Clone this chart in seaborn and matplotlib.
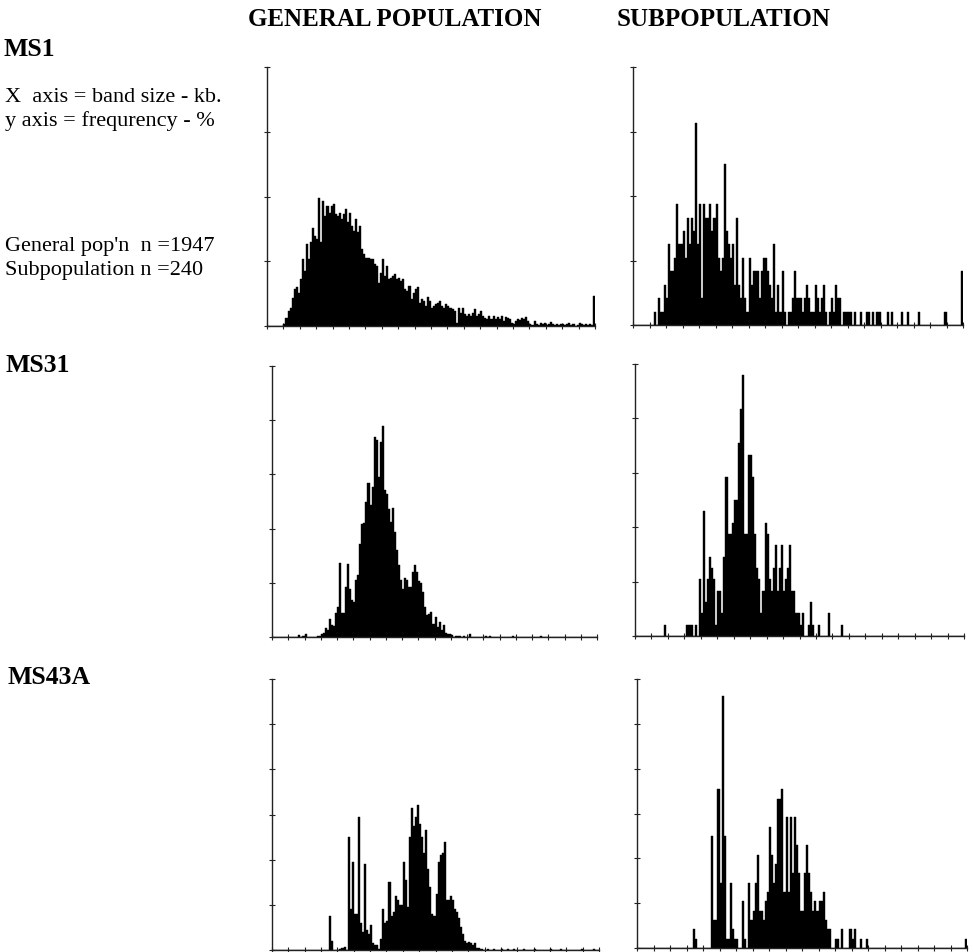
import numpy as np
import pandas as pd
import matplotlib.pyplot as plt
import seaborn as sns

sns.set_style("ticks")
plt.rcParams['font.family'] = ['Liberation Serif', 'DejaVu Serif']

# 160 size bins per panel, 8 bins between x ticks
n_bins = 160
bins_per_tick = 8
sub_n = 240  # subpopulation values are band counts

# MS1, general population (% per bin)
ms1_general = [
    0, 0, 0, 0, 0, 0, 0, 0, 0.05, 0.26, 0.46, 0.57, 0.88, 1.13, 1.19, 1.03,
    1.44, 2.08, 1.70, 2.53, 2.06, 2.58, 3.04, 2.78, 2.68, 3.94, 2.58, 3.87, 3.40, 3.71, 3.50, 3.71,
    3.76, 3.45, 3.40, 3.50, 3.30, 3.45, 3.60, 3.20, 3.48, 3.09, 2.94, 3.30, 2.89, 3.09, 2.37, 2.22,
    2.11, 2.11, 2.06, 2.06, 1.91, 1.86, 1.34, 1.65, 2.08, 1.55, 1.86, 1.44, 1.49, 1.55, 1.60, 1.44,
    1.49, 1.39, 1.44, 1.13, 1.08, 1.24, 0.82, 1.03, 1.13, 1.19, 0.72, 0.82, 0.77, 0.62, 0.91, 0.77,
    0.57, 0.62, 0.67, 0.72, 0.77, 0.62, 0.57, 0.67, 0.62, 0.57, 0.52, 0.46, 0.10, 0.57, 0.41, 0.57,
    0.36, 0.31, 0.36, 0.31, 0.41, 0.52, 0.31, 0.36, 0.46, 0.31, 0.26, 0.21, 0.31, 0.21, 0.31, 0.21,
    0.29, 0.21, 0.31, 0.15, 0.29, 0.26, 0.21, 0.10, 0.05, 0.15, 0.21, 0.19, 0.26, 0.21, 0.29, 0.15,
    0.05, 0.02, 0.15, 0.05, 0.02, 0.08, 0.05, 0.10, 0.02, 0.05, 0.12, 0.05, 0.03, 0.05, 0.03, 0.05,
    0.07, 0.03, 0.05, 0.10, 0.03, 0.05, 0, 0.03, 0.10, 0.05, 0.03, 0.05, 0.03, 0.05, 0.03, 0.93,
]

# MS1, subpopulation (counts per bin)
ms1_sub = [
    0, 0, 0, 0, 0, 0, 0, 0, 0, 0, 1, 0, 2, 1, 1, 3,
    2, 6, 4, 4, 5, 9, 6, 6, 7, 5, 8, 6, 8, 7, 15, 6,
    9, 2, 9, 8, 8, 9, 7, 8, 9, 5, 4, 5, 12, 7, 6, 5,
    6, 3, 8, 3, 2, 5, 2, 1, 5, 3, 4, 4, 4, 2, 4, 5,
    5, 4, 3, 2, 6, 1, 3, 1, 4, 1, 0, 1, 1, 2, 4, 2,
    2, 2, 1, 2, 3, 2, 1, 1, 3, 2, 1, 2, 3, 1, 0, 1,
    2, 1, 3, 2, 2, 0, 1, 1, 1, 1, 0, 1, 0, 0, 1, 0,
    0, 1, 1, 0, 1, 0, 1, 1, 0, 0, 0, 1, 0, 1, 0, 0,
    0, 0, 1, 0, 0, 1, 0, 0, 0, 0, 1, 0, 0, 0, 0, 0,
    0, 0, 0, 0, 0, 0, 0, 1, 0, 0, 0, 0, 0, 0, 0, 4,
]

# MS31, general population (%)
ms31_general = [
    0, 0, 0, 0, 0, 0, 0, 0, 0, 0, 0, 0, 0, 0.08, 0, 0.05,
    0.10, 0, 0, 0, 0, 0, 0.03, 0.05, 0.10, 0.15, 0.35, 0.25, 0.68, 0.45, 0.40, 0.90,
    1.10, 2.74, 0.90, 0.90, 1.85, 2.68, 1.78, 1.35, 1.30, 2.09, 2.27, 3.44, 4.18, 4.20, 5.00, 5.70,
    4.86, 5.53, 7.38, 7.26, 5.90, 7.20, 7.77, 5.41, 5.29, 4.74, 4.24, 4.77, 3.87, 3.20, 2.64, 2.09,
    1.78, 2.18, 2.09, 1.85, 1.85, 2.40, 2.67, 2.40, 2.05, 2.00, 1.66, 1.10, 0.80, 0.85, 0.92, 0.49,
    0.74, 0.37, 0.55, 0.25, 0.43, 0.16, 0.12, 0.10, 0.08, 0, 0.05, 0.05, 0.04, 0, 0.04, 0,
    0, 0.10, 0, 0, 0, 0, 0, 0, 0, 0.05, 0, 0.04, 0, 0, 0, 0,
    0, 0, 0, 0, 0, 0, 0.04, 0, 0, 0, 0, 0, 0, 0, 0, 0,
    0, 0, 0, 0, 0.04, 0, 0, 0, 0, 0, 0, 0, 0, 0, 0, 0,
    0, 0, 0, 0, 0, 0, 0, 0, 0, 0, 0, 0, 0, 0, 0, 0,
]

# MS31, subpopulation (counts)
ms31_sub = [
    0, 0, 0, 0, 0, 0, 0, 0, 0, 0, 0, 0, 0, 0, 1, 0,
    0, 0, 0, 0, 0, 0, 0, 0, 0, 1, 1, 1, 0, 1, 0, 5,
    2, 11, 3, 5, 7, 6, 5, 1, 4, 4, 2, 7, 14, 9, 9, 10,
    12, 12, 17, 20, 23, 9, 9, 16, 16, 14, 9, 6, 5, 2, 4, 10,
    9, 5, 4, 6, 8, 4, 6, 8, 4, 5, 6, 8, 4, 4, 2, 2,
    1, 2, 0, 0, 1, 3, 1, 0, 0, 1, 0, 0, 0, 0, 2, 0,
    0, 0, 0, 0, 1, 0, 0, 0, 0, 0, 0, 0, 0, 0, 0, 0,
    0, 0, 0, 0, 0, 0, 0, 0, 0, 0, 0, 0, 0, 0, 0, 0,
    0, 0, 0, 0, 0, 0, 0, 0, 0, 0, 0, 0, 0, 0, 0, 0,
    0, 0, 0, 0, 0, 0, 0, 0, 0, 0, 0, 0, 0, 0, 0, 0,
]

# MS43A, general population (%)
ms43a_general = [
    0, 0, 0, 0, 0, 0, 0, 0, 0, 0.02, 0, 0, 0, 0, 0, 0,
    0.02, 0, 0, 0, 0, 0, 0, 0, 0.02, 0, 0, 0, 1.5, 0.4, 0, 0,
    0, 0.05, 0.10, 0.15, 0, 5.0, 1.8, 3.9, 1.6, 1.6, 5.9, 1.2, 0.8, 3.8, 0.9, 0.7,
    1.1, 0.3, 0.2, 0.2, 0.05, 0.5, 1.8, 1.2, 1.3, 3.0, 1.5, 1.7, 2.4, 2.2, 2.0, 2.0,
    3.9, 3.1, 1.9, 5.0, 6.3, 5.5, 5.9, 6.4, 5.6, 5.0, 4.3, 5.3, 3.6, 2.8, 1.6, 1.5,
    2.5, 3.9, 4.2, 4.3, 4.8, 2.2, 2.2, 2.4, 2.2, 1.8, 1.7, 1.4, 1.0, 0.7, 0.4, 0.3,
    0.35, 0.3, 0.2, 0.3, 0.1, 0.1, 0.05, 0, 0, 0.05, 0, 0, 0.05, 0, 0, 0,
    0.05, 0, 0, 0.05, 0, 0, 0.05, 0, 0, 0, 0, 0.05, 0, 0, 0, 0,
    0.05, 0, 0, 0, 0, 0, 0, 0, 0.05, 0, 0, 0, 0, 0.05, 0, 0,
    0, 0, 0, 0, 0, 0, 0, 0.05, 0, 0, 0, 0, 0, 0.05, 0, 0,
]

# MS43A, subpopulation (counts)
ms43a_sub = [
    0, 0, 0, 0, 0, 0, 0, 0, 0, 0, 0, 0, 0, 0, 0, 0,
    0, 0, 0, 0, 0, 0, 0, 0, 0, 0, 0, 2, 1, 0, 0, 0,
    0, 0, 0, 0, 12, 3, 3, 17, 7, 27, 12, 1, 1, 7, 2, 1,
    1, 0, 0, 5, 1, 0, 7, 3, 4, 7, 10, 4, 4, 3, 5, 6,
    13, 10, 7, 9, 16, 16, 17, 6, 14, 6, 14, 8, 14, 11, 8, 4,
    4, 8, 11, 8, 6, 4, 5, 4, 5, 5, 6, 3, 2, 2, 0, 0,
    1, 1, 0, 2, 0, 0, 0, 2, 1, 2, 0, 0, 1, 0, 0, 1,
    0, 0, 0, 0, 0, 0, 0, 0, 0, 0, 0, 0, 0, 0, 0, 0,
    0, 0, 0, 0, 0, 0, 0, 0, 0, 0, 0, 0, 0, 0, 0, 0,
    0, 0, 0, 0, 0, 0, 0, 0, 0, 0, 0, 0, 0, 0, 0, 1,
]

W, H = 973, 953

# (values, is subpopulation, y top %, axes box in pixels: left, right, top, baseline)
panels = [
    (ms1_general, False, 8, (267, 595, 68, 327)),
    (ms1_sub, True, 8, (633, 963, 68, 326)),
    (ms31_general, False, 10, (272, 597, 367, 638)),
    (ms31_sub, True, 10, (635, 964, 365, 637)),
    (ms43a_general, False, 12, (272, 599, 680, 951)),
    (ms43a_sub, True, 12, (637, 967, 680, 949)),
]

fig = plt.figure(figsize=(W / 100, H / 100), dpi=100)

for values, is_sub, ytop, (l, r, t, b) in panels:
    ax = fig.add_axes([l / W, 1 - b / H, (r - l) / W, (b - t) / H])
    df = pd.DataFrame({'size_bin': np.arange(n_bins) + 0.5,
                       'freq': np.array(values, dtype=float)})
    if is_sub:
        df['freq'] = df['freq'] / sub_n * 100
    sns.histplot(data=df, x='size_bin', weights='freq', bins=n_bins, binrange=(0, n_bins),
                 color='black', alpha=1, edgecolor='black', linewidth=0.3, ax=ax)
    ax.set_xlim(0, n_bins)
    ax.set_ylim(0, ytop)
    ax.set_xticks(np.arange(0, n_bins + 1, bins_per_tick))
    ax.set_yticks(np.arange(0, ytop + 0.1, 2))
    ax.tick_params(direction='inout', length=5, width=0.8, color='#222222',
                   labelbottom=False, labelleft=False)
    ax.set_xlabel('')
    ax.set_ylabel('')
    for s in ['left', 'bottom']:
        ax.spines[s].set_linewidth(1.0)
        ax.spines[s].set_color('#222222')
    sns.despine(ax=ax)


def put(x, y, s, **kw):
    fig.text(x / W, 1 - y / H, s, va='center', ha='left', color='black', **kw)


put(248, 20, 'GENERAL POPULATION', fontsize=18, fontweight='bold')
put(617, 20, 'SUBPOPULATION', fontsize=18, fontweight='bold')
put(4, 49, 'MS1', fontsize=18.5, fontweight='bold')
put(6, 366, 'MS31', fontsize=18.5, fontweight='bold')
put(8, 678, 'MS43A', fontsize=18.5, fontweight='bold')
put(5, 97, 'X  axis = band size - kb.', fontsize=16)
put(5, 121, 'y axis = frequrency - %', fontsize=16)
put(5, 247, "General pop'n  n =1947", fontsize=16)
put(5, 270, 'Subpopulation n =240', fontsize=16)

fig.savefig('out.png', dpi=100)
